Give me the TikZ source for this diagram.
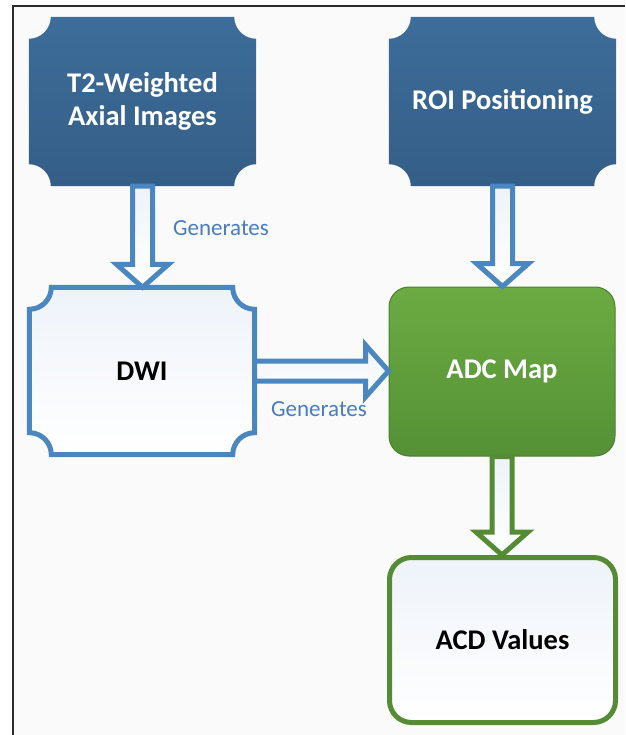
\documentclass[tikz,border=0pt]{standalone}
\usepackage{fontspec}
\setmainfont{Carlito}
\usetikzlibrary{calc,positioning,backgrounds}
\definecolor{kek}{RGB}{74,134,192}
\definecolor{sotetfent}{RGB}{61,109,154}
\definecolor{sotetlent}{RGB}{52,94,134}
\definecolor{zoldfent}{RGB}{108,171,66}
\definecolor{zoldlent}{RGB}{84,145,54}
\definecolor{zoldszel}{RGB}{75,128,48}
\definecolor{zold}{RGB}{84,139,52}
\definecolor{halvany}{RGB}{238,243,250}
\definecolor{felirat}{RGB}{74,124,196}
\definecolor{hatter}{RGB}{250,250,251}
\definecolor{vonal}{RGB}{45,42,42}
\tikzset{
  doboz/.style={inner sep=0pt,align=center,font=\fontsize{28.5}{33}\selectfont\bfseries},
  sotet/.style={doboz,text=white,minimum width=227pt,minimum height=169pt},
  vilagos/.style={doboz,text=black,minimum width=225pt,minimum height=167pt},
  hal/.style={line width=5pt,top color=halvany,bottom color=white},
  nyil/.style={line width=5pt,line join=miter,top color=halvany,bottom color=white},
  gen/.style={text=felirat,font=\fontsize{23}{27}\selectfont},
  keret/.style={line width=2pt,draw=vonal},
}
\newlength\sarok
\setlength\sarok{22pt}
% concave-corner outline around a node
\newcommand\kivag[2][]{%
  \path[#1] ([xshift=\sarok]#2.north west) -- ([xshift=-\sarok]#2.north east)
    arc[start angle=180,end angle=270,radius=\sarok] -- ([yshift=\sarok]#2.south east)
    arc[start angle=90,end angle=180,radius=\sarok] -- ([xshift=\sarok]#2.south west)
    arc[start angle=0,end angle=90,radius=\sarok] -- ([yshift=-\sarok]#2.north west)
    arc[start angle=270,end angle=360,radius=\sarok] -- cycle;}
% block arrow pointing down
\newcommand\lenyil[3][kek]{%
  \coordinate (hegy) at (#2.south|-#3.north);
  \draw[nyil,draw=#1] ([xshift=-10pt]#2.south) -- ([xshift=-10pt,yshift=23pt]hegy)
    -- ([xshift=-26pt,yshift=23pt]hegy) -- (hegy) -- ([xshift=26pt,yshift=23pt]hegy)
    -- ([xshift=10pt,yshift=23pt]hegy) -- ([xshift=10pt]#2.south) -- cycle;}
% block arrow pointing right
\newcommand\jobbnyil[3][kek]{%
  \coordinate (hegy) at (#3.west|-#2.east);
  \draw[nyil,draw=#1] ([yshift=10pt]#2.east) -- ([xshift=-23pt,yshift=10pt]hegy)
    -- ([xshift=-23pt,yshift=26pt]hegy) -- (hegy) -- ([xshift=-23pt,yshift=-26pt]hegy)
    -- ([xshift=-23pt,yshift=-10pt]hegy) -- ([yshift=-10pt]#2.east) -- cycle;}

\begin{document}
\begin{tikzpicture}[x=1pt,y=-1pt]
  \useasboundingbox (0,0) rectangle (625,735);
  \node[sotet] (t2) at (142.5,101.5) {T2-Weighted\\Axial Images};
  \node[sotet] (roi) at (502.5,101.5) {ROI Positioning};
  \node[vilagos] (dwi) at (142,371) {DWI};
  \node[doboz,text=white,minimum width=226pt,minimum height=169pt,rounded corners=20pt,
    draw=zoldszel,line width=1pt,top color=zoldfent,bottom color=zoldlent] (adc) at (502,371.5) {ADC Map};
  \node[doboz,text=black,minimum width=226pt,minimum height=165pt,rounded corners=22pt,
    draw=zold,line width=5pt,top color=halvany,bottom color=white] (acd) at (502.5,640) {ACD Values};
  \begin{scope}[on background layer]
    \fill[white] (0,0) rectangle (625,735);
    \fill[hatter] (13,6) rectangle (625,735);
    \draw[keret] (13,735) -- (13,6) -- (625,6);
    \kivag[top color=sotetfent,bottom color=sotetlent]{t2}
    \kivag[top color=sotetfent,bottom color=sotetlent]{roi}
    \kivag[hal,draw=kek]{dwi}
  \end{scope}
  \lenyil{t2}{dwi}
  \lenyil{roi}{adc}
  \jobbnyil{dwi}{adc}
  \lenyil[zold]{adc}{acd}
  \node[gen] (gen1) at (221,228) {Generates};
  \node[gen] (gen2) at (319,409) {Generates};
\end{tikzpicture}
\end{document}
